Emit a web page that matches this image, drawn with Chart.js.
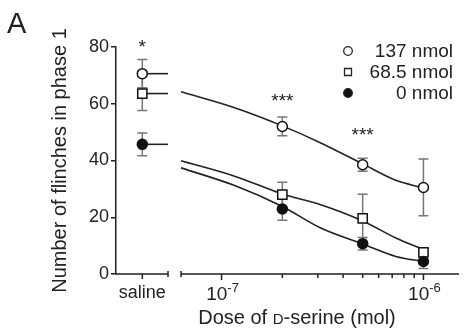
<!DOCTYPE html>
<html>
<head>
<meta charset="utf-8">
<script src="https://cdn.jsdelivr.net/npm/chart.js@4.4.0/dist/chart.umd.min.js"></script>
<style>
html, body { margin: 0; padding: 0; background: #fff; }
#wrap { width: 467px; height: 329px; position: relative; }
</style>
</head>
<body>
<div id="wrap"><canvas id="c"></canvas></div>
<script>
// values
var seriesLabels = ['137 nmol', '68.5 nmol', '0 nmol'];
var doses = [2e-7, 5e-7, 1e-6];
var salineMean = [70.6, 63.6, 45.7];
var salineErr = [5, 6, 4];
var mean137 = [52.0, 38.5, 30.5];
var err137 = [3.3, 2.3, 10];
var mean685 = [28.0, 19.6, 7.6];
var err685 = [4.3, 8.5, 1.2];
var mean0 = [22.9, 10.7, 4.4];
var err0 = [4.0, 2.2, 2.5];

// fitted curves
var fitDoses = [6.3e-8, 1.17e-7, 2e-7, 3.1e-7, 5e-7, 7.3e-7, 1e-6];
var fit137 = [64.2, 58.5, 52.2, 46.2, 38.8, 33.0, 30.3];
var fit685 = [39.9, 34.4, 28.2, 24.4, 18.7, 12.7, 8.6];
var fit0 = [37.4, 31.1, 23.8, 16.2, 10.6, 6.2, 4.4];

// significance marks
var starDoses = ['saline', 2e-7, 5e-7];
var starText = ['*', '***', '***'];
var starY = [81.7, 62.6, 50.6];

// x axis: saline group placed left of a break, then log dose
var salinePos = 4.05e-8;
var breakLo = 5.43e-8, breakHi = 6.3e-8;
var xMin = 3.0e-8, xMax = 1.5e-6;
var logTicks = [1e-7, 2e-7, 3e-7, 4e-7, 5e-7, 6e-7, 7e-7, 8e-7, 9e-7, 1e-6];
var yTicks = [0, 20, 40, 60, 80];

var FONT = "'Liberation Sans', Arial, sans-serif";
var INK = '#222';

var means = [mean137, mean685, mean0];
var errs = [err137, err685, err0];
var fits = [fit137, fit685, fit0];
var styles = [
    { pointStyle: 'circle', radius: 5, bg: '#fff' },
    { pointStyle: 'rect', radius: 6.5, bg: '#fff' },
    { pointStyle: 'circle', radius: 5, bg: '#111' }
];

function xOf(d) { return d === 'saline' ? salinePos : d; }

var datasets = [];
for (var i = 0; i < 3; i++) {
    // marker points
    var pts = [{ x: salinePos, y: salineMean[i] }];
    for (var j = 0; j < doses.length; j++) pts.push({ x: doses[j], y: means[i][j] });
    datasets.push({
        label: seriesLabels[i], data: pts, showLine: false,
        pointStyle: styles[i].pointStyle, pointRadius: styles[i].radius,
        pointBackgroundColor: styles[i].bg, pointBorderColor: '#111', pointBorderWidth: 1.5,
        order: 3 - i
    });
    // fitted curve
    datasets.push({
        label: seriesLabels[i] + ' fit',
        data: fitDoses.map(function (d, k) { return { x: d, y: fits[i][k] }; }),
        borderColor: INK, borderWidth: 1.6, pointRadius: 0, cubicInterpolationMode: 'monotone',
        order: 10
    });
    // saline mean line
    datasets.push({
        label: seriesLabels[i] + ' saline',
        data: [{ x: salinePos, y: salineMean[i] }, { x: breakLo, y: salineMean[i] }],
        borderColor: INK, borderWidth: 1.6, pointRadius: 0,
        order: 10
    });
}

var decor = {
    id: 'decor',
    beforeDatasetsDraw: function (chart) {
        var ctx = chart.ctx, xs = chart.scales.x, ys = chart.scales.y;
        ctx.save();
        ctx.strokeStyle = '#777';
        ctx.lineWidth = 1.5;
        for (var i = 0; i < 3; i++) {
            var xv = [salinePos].concat(doses);
            var mv = [salineMean[i]].concat(means[i]);
            var ev = [salineErr[i]].concat(errs[i]);
            for (var k = 0; k < xv.length; k++) {
                var px = xs.getPixelForValue(xv[k]);
                var top = ys.getPixelForValue(mv[k] + ev[k]);
                var bot = ys.getPixelForValue(mv[k] - ev[k]);
                ctx.beginPath();
                ctx.moveTo(px, top); ctx.lineTo(px, bot);
                ctx.moveTo(px - 5, top); ctx.lineTo(px + 5, top);
                ctx.moveTo(px - 5, bot); ctx.lineTo(px + 5, bot);
                ctx.stroke();
            }
        }
        ctx.restore();
    },
    afterDraw: function (chart) {
        var ctx = chart.ctx, xs = chart.scales.x, ys = chart.scales.y;
        var y0 = ys.getPixelForValue(0);
        ctx.save();
        ctx.strokeStyle = INK;
        ctx.fillStyle = INK;
        ctx.lineWidth = 1.5;

        // x axis segments with break
        var left = chart.chartArea.left, right = chart.chartArea.right;
        var pLo = xs.getPixelForValue(breakLo), pHi = xs.getPixelForValue(breakHi);
        ctx.beginPath();
        ctx.moveTo(left - 0.75, y0); ctx.lineTo(pLo, y0);
        ctx.moveTo(pHi, y0); ctx.lineTo(right, y0);
        ctx.moveTo(pLo, y0 - 3); ctx.lineTo(pLo, y0 + 3);
        ctx.moveTo(pHi, y0 - 3); ctx.lineTo(pHi, y0 + 3);
        var ps = xs.getPixelForValue(salinePos);
        ctx.moveTo(ps, y0); ctx.lineTo(ps, y0 + 5);
        logTicks.forEach(function (t) {
            var p = xs.getPixelForValue(t);
            var major = Math.abs(Math.log10(t) - Math.round(Math.log10(t))) < 1e-6;
            ctx.moveTo(p, y0); ctx.lineTo(p, y0 + (major ? 6 : 4));
        });
        ctx.stroke();

        // x tick labels
        ctx.font = '18px ' + FONT;
        ctx.textAlign = 'center';
        ctx.textBaseline = 'alphabetic';
        ctx.fillText('saline', ps, 298);
        logTicks.forEach(function (t) {
            var e = Math.log10(t);
            if (Math.abs(e - Math.round(e)) > 1e-6) return;
            var p = xs.getPixelForValue(t);
            ctx.font = '19px ' + FONT;
            var w1 = ctx.measureText('10').width;
            ctx.font = '13px ' + FONT;
            var sup = String(Math.round(e));
            var w2 = ctx.measureText(sup).width;
            var x0 = p - (w1 + w2) / 2 + 1;
            ctx.textAlign = 'left';
            ctx.font = '19px ' + FONT;
            ctx.fillText('10', x0, 300);
            ctx.font = '13px ' + FONT;
            ctx.fillText(sup, x0 + w1, 292);
        });

        // x title with small-cap D
        var a = 'Dose of ', b = 'D', c = '-serine (mol)';
        ctx.font = '20px ' + FONT; var wa = ctx.measureText(a).width, wc = ctx.measureText(c).width;
        ctx.font = '15px ' + FONT; var wb = ctx.measureText(b).width;
        var tx = 297 - (wa + wb + wc) / 2;
        ctx.textAlign = 'left';
        ctx.font = '20px ' + FONT; ctx.fillText(a, tx, 324);
        ctx.font = '15px ' + FONT; ctx.fillText(b, tx + wa, 324);
        ctx.font = '20px ' + FONT; ctx.fillText(c, tx + wa + wb, 324);

        // y title
        ctx.save();
        ctx.translate(60, (chart.chartArea.top + chart.chartArea.bottom) / 2);
        ctx.rotate(-Math.PI / 2);
        ctx.textAlign = 'center';
        ctx.textBaseline = 'middle';
        ctx.font = '20px ' + FONT;
        ctx.fillText('Number of flinches in phase 1', 0, 0);
        ctx.restore();

        // panel letter
        ctx.font = '29px ' + FONT;
        ctx.textAlign = 'left';
        ctx.fillText('A', 7, 33);

        // significance stars
        ctx.font = '19px ' + FONT;
        ctx.textAlign = 'center';
        for (var s = 0; s < starText.length; s++) {
            ctx.fillText(starText[s], xs.getPixelForValue(xOf(starDoses[s])), ys.getPixelForValue(starY[s]) + 11);
        }

        // legend, right aligned text
        var rows = [51, 72, 93];
        ctx.font = '19px ' + FONT;
        ctx.textAlign = 'right';
        ctx.textBaseline = 'middle';
        for (var i = 0; i < 3; i++) {
            var ly = rows[i], lx = 348;
            ctx.beginPath();
            ctx.lineWidth = 1.3;
            if (styles[i].pointStyle === 'rect') {
                ctx.rect(lx - 3.5, ly - 3.5, 7, 7);
            } else {
                ctx.arc(lx, ly, 4.3, 0, Math.PI * 2);
            }
            ctx.fillStyle = styles[i].bg;
            ctx.fill();
            ctx.stroke();
            ctx.fillStyle = INK;
            ctx.fillText(seriesLabels[i], 453, ly + 1);
        }
        ctx.restore();
    }
};

new Chart(document.getElementById('c'), {
    type: 'line',
    data: { datasets: datasets },
    plugins: [decor],
    options: {
        responsive: true,
        maintainAspectRatio: false,
        animation: false,
        devicePixelRatio: 1,
        layout: { padding: { top: 47, right: 2, bottom: 55, left: 0 } },
        plugins: { legend: { display: false }, tooltip: { enabled: false } },
        scales: {
            x: { type: 'logarithmic', min: xMin, max: xMax, display: false },
            y: {
                min: 0, max: 80,
                afterBuildTicks: function (s) { s.ticks = yTicks.map(function (v) { return { value: v }; }); },
                afterFit: function (s) { s.width = 116; },
                ticks: { color: INK, font: { family: FONT, size: 18 }, padding: 2 },
                border: { color: INK, width: 1.5 },
                grid: { drawOnChartArea: false, tickLength: 5, color: INK, lineWidth: 1.5 }
            }
        }
    }
});
</script>
</body>
</html>
